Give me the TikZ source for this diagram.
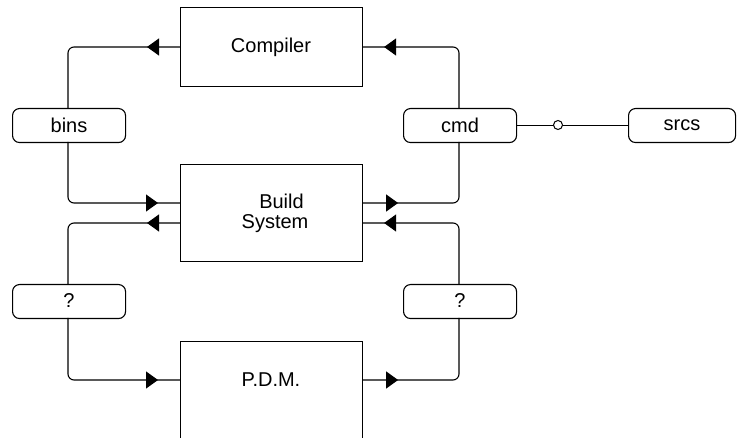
\documentclass[tikz,border=0pt]{standalone}
\usepackage{fontspec}
\setmainfont{Liberation Sans}
\usetikzlibrary{arrows.meta,decorations.markings}

\begin{document}
\begin{tikzpicture}[x=1pt,y=-1pt,
  every node/.style={font=\fontsize{20}{20}\selectfont},
  bigbox/.style={draw, line width=1.1pt, minimum width=182pt, inner sep=0pt, anchor=north west},
  tagbox/.style={draw, line width=1.1pt, rounded corners=7pt, minimum width=113pt, minimum height=34pt, inner sep=0pt, anchor=north west},
  link/.style={line width=1.1pt, rounded corners=6pt},
  tip/.style={postaction={decorate}, decoration={markings,
    mark=at position #1 with {\arrow{Triangle[length=12pt,width=17pt]}}}},
]
\useasboundingbox (0,0) rectangle (745,438);
\begin{scope}
\clip (0,0) rectangle (745,438);

% main components
\node[bigbox, minimum height=79pt] (compiler) at (180,7) {};
\node (compilertxt) at (271,47) {Compiler};
\node[bigbox, minimum height=97pt] (build) at (180,164) {};
\node[align=center] (buildtxt) at (275,213) {\hspace*{13pt}Build\\System};
\node[bigbox, minimum height=120pt] (pdm) at (180,341) {};
\node (pdmtxt) at (271,380) {P.D.M.};

% artefacts
\node[tagbox] (bins) at (12,108) {};
\node (binstxt) at (69,125) {bins};
\node[tagbox] (cmd) at (403,108) {};
\node (cmdtxt) at (460,125) {cmd};
\node[tagbox, minimum width=107pt] (srcs) at (628,108) {};
\node (srcstxt) at (682,125) {srcs};
\node[tagbox] (qleft) at (12,284) {};
\node (qlefttxt) at (69,301) {?};
\node[tagbox] (qright) at (403,284) {};
\node (qrighttxt) at (460,301) {?};

% attachment points
\coordinate (binsN) at (68,108);
\coordinate (binsS) at (68,142);
\coordinate (cmdN) at (459,108);
\coordinate (cmdS) at (459,142);
\coordinate (qleftN) at (68,284);
\coordinate (qleftS) at (68,318);
\coordinate (qrightN) at (459,284);
\coordinate (qrightS) at (459,318);

% connectors
\draw[link, tip=33pt] (compiler.west |- 0,47) -| (binsN);
\draw[link, tip=-21pt] (cmdN) |- (compiler.east |- 0,47);
\draw[link, tip=-22pt] (binsS) |- (build.west |- 0,203);
\draw[link, tip=35pt] (build.east |- 0,203) -| (cmdS);
\draw[link, tip=33pt] (build.west |- 0,223) -| (qleftN);
\draw[link, tip=-21pt] (qrightN) |- (build.east |- 0,223);
\draw[link, tip=-22pt] (qleftS) |- (pdm.west |- 0,380);
\draw[link, tip=35pt] (pdm.east |- 0,380) -| (qrightS);

% command line to sources, with an optional-link circle
\draw[line width=1pt] (cmd.east) -- (srcs.west);
\node[circle, draw, fill=white, line width=1pt, minimum size=9pt, inner sep=0pt] (opt) at (558,125) {};
\end{scope}
\end{tikzpicture}
\end{document}
